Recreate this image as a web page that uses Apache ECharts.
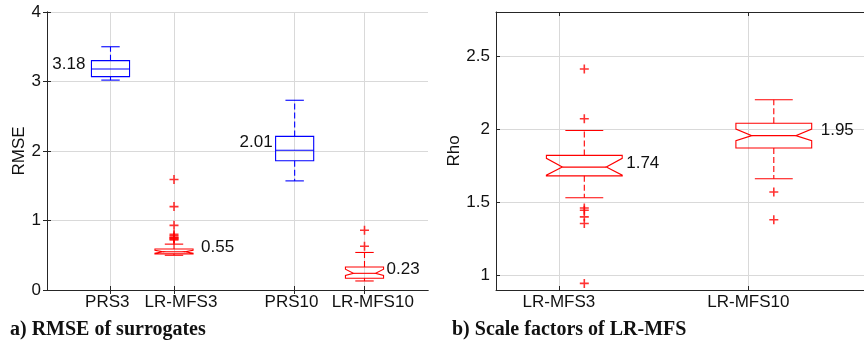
<!DOCTYPE html>
<html>
<head>
<meta charset="utf-8">
<script src="https://cdn.jsdelivr.net/npm/echarts@6/dist/echarts.min.js"></script>
<style>
  html, body { margin: 0; padding: 0; background: #fff; }
  #chart { width: 864px; height: 348px; }
</style>
</head>
<body>
<div id="chart"></div>
<script>
// a) RMSE of surrogates
const rmseNames = ['PRS3', 'LR-MFS3', 'PRS10', 'LR-MFS10'];
const rmsePos = [1, 2, 3.9, 5];
const rmseLabelPos = [0.95, 2.11, 3.85, 5.13];
const rmseLow = [3.02, 0.50, 1.57, 0.13];
const rmseQ1 = [3.07, 0.52, 1.86, 0.17];
const rmseMed = [3.18, 0.55, 2.01, 0.24];
const rmseQ3 = [3.30, 0.59, 2.21, 0.33];
const rmseHigh = [3.50, 0.66, 2.73, 0.54];
const rmseNotchLo = [null, 0.53, null, 0.21];
const rmseNotchHi = [null, 0.57, null, 0.30];
const rmseOutliers = [[], [1.59, 1.20, 0.93, 0.80, 0.78, 0.76, 0.75, 0.74, 0.73, 0.72], [], [0.86, 0.63]];
const rmseText = ['3.18', '0.55', '2.01', '0.23'];

// b) Scale factors of LR-MFS
const rhoNames = ['LR-MFS3', 'LR-MFS10'];
const rhoTicks = [1, 2];
const rhoPos = [1.134, 2.134];
const rhoLow = [1.53, 1.66];
const rhoQ1 = [1.68, 1.87];
const rhoMed = [1.74, 1.955];
const rhoQ3 = [1.82, 2.04];
const rhoHigh = [1.99, 2.20];
const rhoNotchLo = [1.685, 1.92];
const rhoNotchHi = [1.80, 2.00];
const rhoOutliers = [[2.41, 2.07, 1.46, 1.445, 1.40, 1.355, 0.945], [1.57, 1.38]];
const rhoText = ['1.74', '1.95'];
const rhoYTicks = [1, 1.5, 2, 2.5];

const BLUE = '#0000ff';
const RED = '#ff0000';
const AXIS = '#262626';
const GRID = '#d9d9d9';
const SANS = '"Liberation Sans", Arial, sans-serif';

const chart = echarts.init(document.getElementById('chart'));

function nearestName(v, positions, names) {
  let best = 0;
  positions.forEach((p, i) => { if (Math.abs(p - v) < Math.abs(positions[best] - v)) best = i; });
  return names[best];
}

function boxRenderer(st) {
  return function (params, api) {
    const i = params.dataIndex;
    const x = st.pos[i];
    const px = (v) => api.coord([x, v]);
    const cx = px(st.med[i])[0];
    const half = api.size([st.boxW, 0])[0] / 2;
    const capHalf = api.size([st.capW, 0])[0] / 2;
    const yLow = px(st.low[i])[1];
    const yQ1 = px(st.q1[i])[1];
    const yMed = px(st.med[i])[1];
    const yQ3 = px(st.q3[i])[1];
    const yHigh = px(st.high[i])[1];
    const color = st.colors[i];
    const line = { stroke: color, lineWidth: 1.1, fill: null };
    const kids = [];
    let medHalf = half;
    if (st.notchLo[i] != null) {
      const yNLo = px(st.notchLo[i])[1];
      const yNHi = px(st.notchHi[i])[1];
      const inner = half * 0.58;
      medHalf = inner;
      kids.push({
        type: 'polygon',
        shape: { points: [
          [cx - half, yQ3], [cx - half, yNHi], [cx - inner, yMed], [cx - half, yNLo], [cx - half, yQ1],
          [cx + half, yQ1], [cx + half, yNLo], [cx + inner, yMed], [cx + half, yNHi], [cx + half, yQ3]
        ] },
        style: line
      });
    } else {
      kids.push({ type: 'rect', shape: { x: cx - half, y: yQ3, width: half * 2, height: yQ1 - yQ3 }, style: line });
    }
    kids.push({ type: 'line', shape: { x1: cx - medHalf, y1: yMed, x2: cx + medHalf, y2: yMed }, style: line });
    const dash = { stroke: color, lineWidth: 1.1, lineDash: [6, 3] };
    kids.push({ type: 'line', shape: { x1: cx, y1: yQ3, x2: cx, y2: yHigh }, style: dash });
    kids.push({ type: 'line', shape: { x1: cx, y1: yQ1, x2: cx, y2: yLow }, style: dash });
    kids.push({ type: 'line', shape: { x1: cx - capHalf, y1: yHigh, x2: cx + capHalf, y2: yHigh }, style: line });
    kids.push({ type: 'line', shape: { x1: cx - capHalf, y1: yLow, x2: cx + capHalf, y2: yLow }, style: line });
    const onLeft = st.labelSide[i] === 'left';
    kids.push({
      type: 'text',
      x: onLeft ? cx - half - st.labelGap[i] : cx + half + st.labelGap[i],
      y: yMed + st.labelDy[i],
      style: {
        text: st.text[i], fill: '#111', fontSize: 17, fontFamily: SANS,
        align: onLeft ? 'right' : 'left', verticalAlign: 'middle'
      }
    });
    return { type: 'group', children: kids };
  };
}

function outlierData(pos, lists) {
  const out = [];
  lists.forEach((vals, i) => vals.forEach((v) => out.push([pos[i], v])));
  return out;
}

const plus = 'path://M0,5L10,5M5,0L5,10';
const tickStyle = { inside: true, length: 4, lineStyle: { color: AXIS } };
const lineStyle = { show: true, lineStyle: { color: AXIS, width: 1 } };
const labelStyle = { color: '#111', fontSize: 17, fontFamily: SANS };

chart.setOption({
  animation: false,
  grid: [
    { left: 47, right: 436, top: 12, bottom: 58 },
    { left: 496, right: 0, top: 12, bottom: 58 }
  ],
  xAxis: [
    {
      type: 'value', gridIndex: 0, min: 0, max: 6,
      axisLine: lineStyle,
      axisTick: { ...tickStyle, customValues: rmsePos },
      axisLabel: { ...labelStyle, margin: 4, customValues: rmseLabelPos,
        formatter: (v) => nearestName(v, rmseLabelPos, rmseNames) },
      splitLine: { show: true, lineStyle: { color: GRID } }
    },
    {
      type: 'value', gridIndex: 0, min: 0, max: 6, position: 'top',
      axisLine: lineStyle,
      axisTick: { ...tickStyle, customValues: rmsePos },
      axisLabel: { show: false },
      splitLine: { show: false }
    },
    {
      type: 'value', gridIndex: 1, min: 0.668, max: 2.61,
      axisLine: lineStyle,
      axisTick: { ...tickStyle, customValues: rhoTicks },
      axisLabel: { ...labelStyle, margin: 4, customValues: rhoTicks,
        formatter: (v) => nearestName(v, rhoTicks, rhoNames) },
      splitLine: { show: true, lineStyle: { color: GRID } }
    },
    {
      type: 'value', gridIndex: 1, min: 0.668, max: 2.61, position: 'top',
      axisLine: lineStyle,
      axisTick: { ...tickStyle, customValues: rhoTicks },
      axisLabel: { show: false },
      splitLine: { show: false }
    }
  ],
  yAxis: [
    {
      type: 'value', gridIndex: 0, min: 0, max: 4, interval: 1,
      name: 'RMSE', nameLocation: 'middle', nameGap: 19,
      nameTextStyle: { color: '#111', fontSize: 17, fontFamily: SANS },
      axisLine: lineStyle,
      axisTick: tickStyle,
      axisLabel: { ...labelStyle, margin: 6 },
      splitLine: { show: true, lineStyle: { color: GRID } }
    },
    {
      type: 'value', gridIndex: 0, min: 0, max: 4, interval: 1, position: 'right',
      axisLine: lineStyle,
      axisTick: tickStyle,
      axisLabel: { show: false },
      splitLine: { show: false }
    },
    {
      type: 'value', gridIndex: 1, min: 0.9, max: 2.8,
      name: 'Rho', nameLocation: 'middle', nameGap: 24,
      nameTextStyle: { color: '#111', fontSize: 17, fontFamily: SANS },
      axisLine: lineStyle,
      axisTick: { ...tickStyle, customValues: rhoYTicks },
      axisLabel: { ...labelStyle, margin: 6, customValues: rhoYTicks },
      splitLine: { show: true, lineStyle: { color: GRID } }
    }
  ],
  series: [
    {
      type: 'custom', xAxisIndex: 0, yAxisIndex: 0, z: 3,
      data: rmsePos.map((p, i) => [p, rmseLow[i], rmseHigh[i]]),
      encode: { x: 0, y: [1, 2] },
      renderItem: boxRenderer({
        pos: rmsePos, low: rmseLow, q1: rmseQ1, med: rmseMed, q3: rmseQ3, high: rmseHigh,
        notchLo: rmseNotchLo, notchHi: rmseNotchHi, text: rmseText,
        colors: [BLUE, RED, BLUE, RED], boxW: 0.6, capW: 0.29,
        labelSide: ['left', 'right', 'left', 'right'], labelGap: [6, 8, 3, 3], labelDy: [-5, -4, -8, -4]
      })
    },
    {
      type: 'scatter', xAxisIndex: 0, yAxisIndex: 0, z: 4,
      symbol: plus, symbolSize: 9,
      itemStyle: { color: 'transparent', borderColor: RED, borderWidth: 1.6 },
      data: outlierData(rmsePos, rmseOutliers)
    },
    {
      type: 'custom', xAxisIndex: 2, yAxisIndex: 2, z: 3,
      data: rhoPos.map((p, i) => [p, rhoLow[i], rhoHigh[i]]),
      encode: { x: 0, y: [1, 2] },
      renderItem: boxRenderer({
        pos: rhoPos, low: rhoLow, q1: rhoQ1, med: rhoMed, q3: rhoQ3, high: rhoHigh,
        notchLo: rhoNotchLo, notchHi: rhoNotchHi, text: rhoText,
        colors: [RED, RED], boxW: 0.4, capW: 0.2,
        labelSide: ['right', 'right'], labelGap: [4, 9], labelDy: [-4, -5]
      })
    },
    {
      type: 'scatter', xAxisIndex: 2, yAxisIndex: 2, z: 4,
      symbol: plus, symbolSize: 9,
      itemStyle: { color: 'transparent', borderColor: RED, borderWidth: 1.6 },
      data: outlierData(rhoPos, rhoOutliers)
    }
  ],
  graphic: [
    { type: 'text', left: 10, top: 320,
      style: { text: 'a) RMSE of surrogates', fill: '#111', font: 'bold 20px "Liberation Serif", "Times New Roman", serif' } },
    { type: 'text', left: 452, top: 320,
      style: { text: 'b) Scale factors of LR-MFS', fill: '#111', font: 'bold 20px "Liberation Serif", "Times New Roman", serif' } }
  ]
});
</script>
</body>
</html>
